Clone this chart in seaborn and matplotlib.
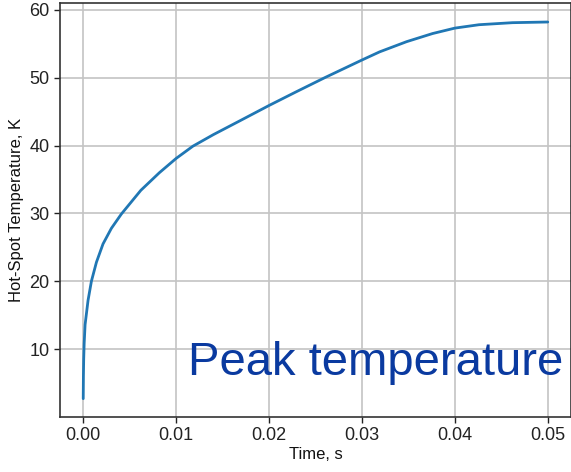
import matplotlib
matplotlib.use("Agg")
import matplotlib.pyplot as plt
import seaborn as sns
import pandas as pd

time_s = [0, 0.00002, 0.00005, 0.0001, 0.0002, 0.00052, 0.00088, 0.00142,
          0.00213, 0.00303, 0.0041, 0.00518, 0.0062, 0.0082, 0.0100, 0.0118,
          0.0140, 0.0168, 0.0200, 0.0229, 0.0260, 0.0300, 0.0319, 0.0348,
          0.0376, 0.0400, 0.0426, 0.0462, 0.0500]
temp_K = [2.7, 6.0, 8.5, 10.8, 13.6, 17.2, 20.0, 22.8,
          25.5, 27.8, 29.9, 31.7, 33.4, 36.0, 38.1, 39.9,
          41.6, 43.6, 45.9, 47.9, 50.0, 52.6, 53.8, 55.3,
          56.5, 57.3, 57.8, 58.1, 58.2]

df = pd.DataFrame({"Time, s": time_s, "Hot-Spot Temperature, K": temp_K})

sns.set_style("ticks")
plt.rcParams["font.family"] = ["Liberation Sans", "DejaVu Sans"]

fig = plt.figure(figsize=(5.71, 4.72), dpi=100)
ax = fig.add_axes([60 / 571, 55 / 472, 1 - 60 / 571, (417 - 3) / 472])

sns.lineplot(data=df, x="Time, s", y="Hot-Spot Temperature, K", ax=ax,
             color="#2077b4", linewidth=2.0, sort=False)

ax.set_xlim(-0.0025, 0.0525)
ax.set_ylim(0.0, 61.0)
ax.set_xticks([0.0, 0.01, 0.02, 0.03, 0.04, 0.05])
ax.set_xticklabels(["0.00", "0.01", "0.02", "0.03", "0.04", "0.05"])
ax.set_yticks([10, 20, 30, 40, 50, 60])
ax.grid(True, color="#c4c4c4", linewidth=1.2)
ax.tick_params(labelsize=13, colors="#222222", length=4, width=1)
ax.set_xlabel("Time, s", fontsize=12, color="#111111", labelpad=2)
ax.set_ylabel("Hot-Spot Temperature, K", fontsize=12, color="#111111", labelpad=4)
for s in ax.spines.values():
    s.set_color("#333333")
    s.set_linewidth(1.2)

fig.text(563 / 571, (472 - 375) / 472, "Peak temperature", ha="right",
         va="baseline", fontsize=34, color="#0a3aa0")

fig.savefig("out.png", dpi=100)
